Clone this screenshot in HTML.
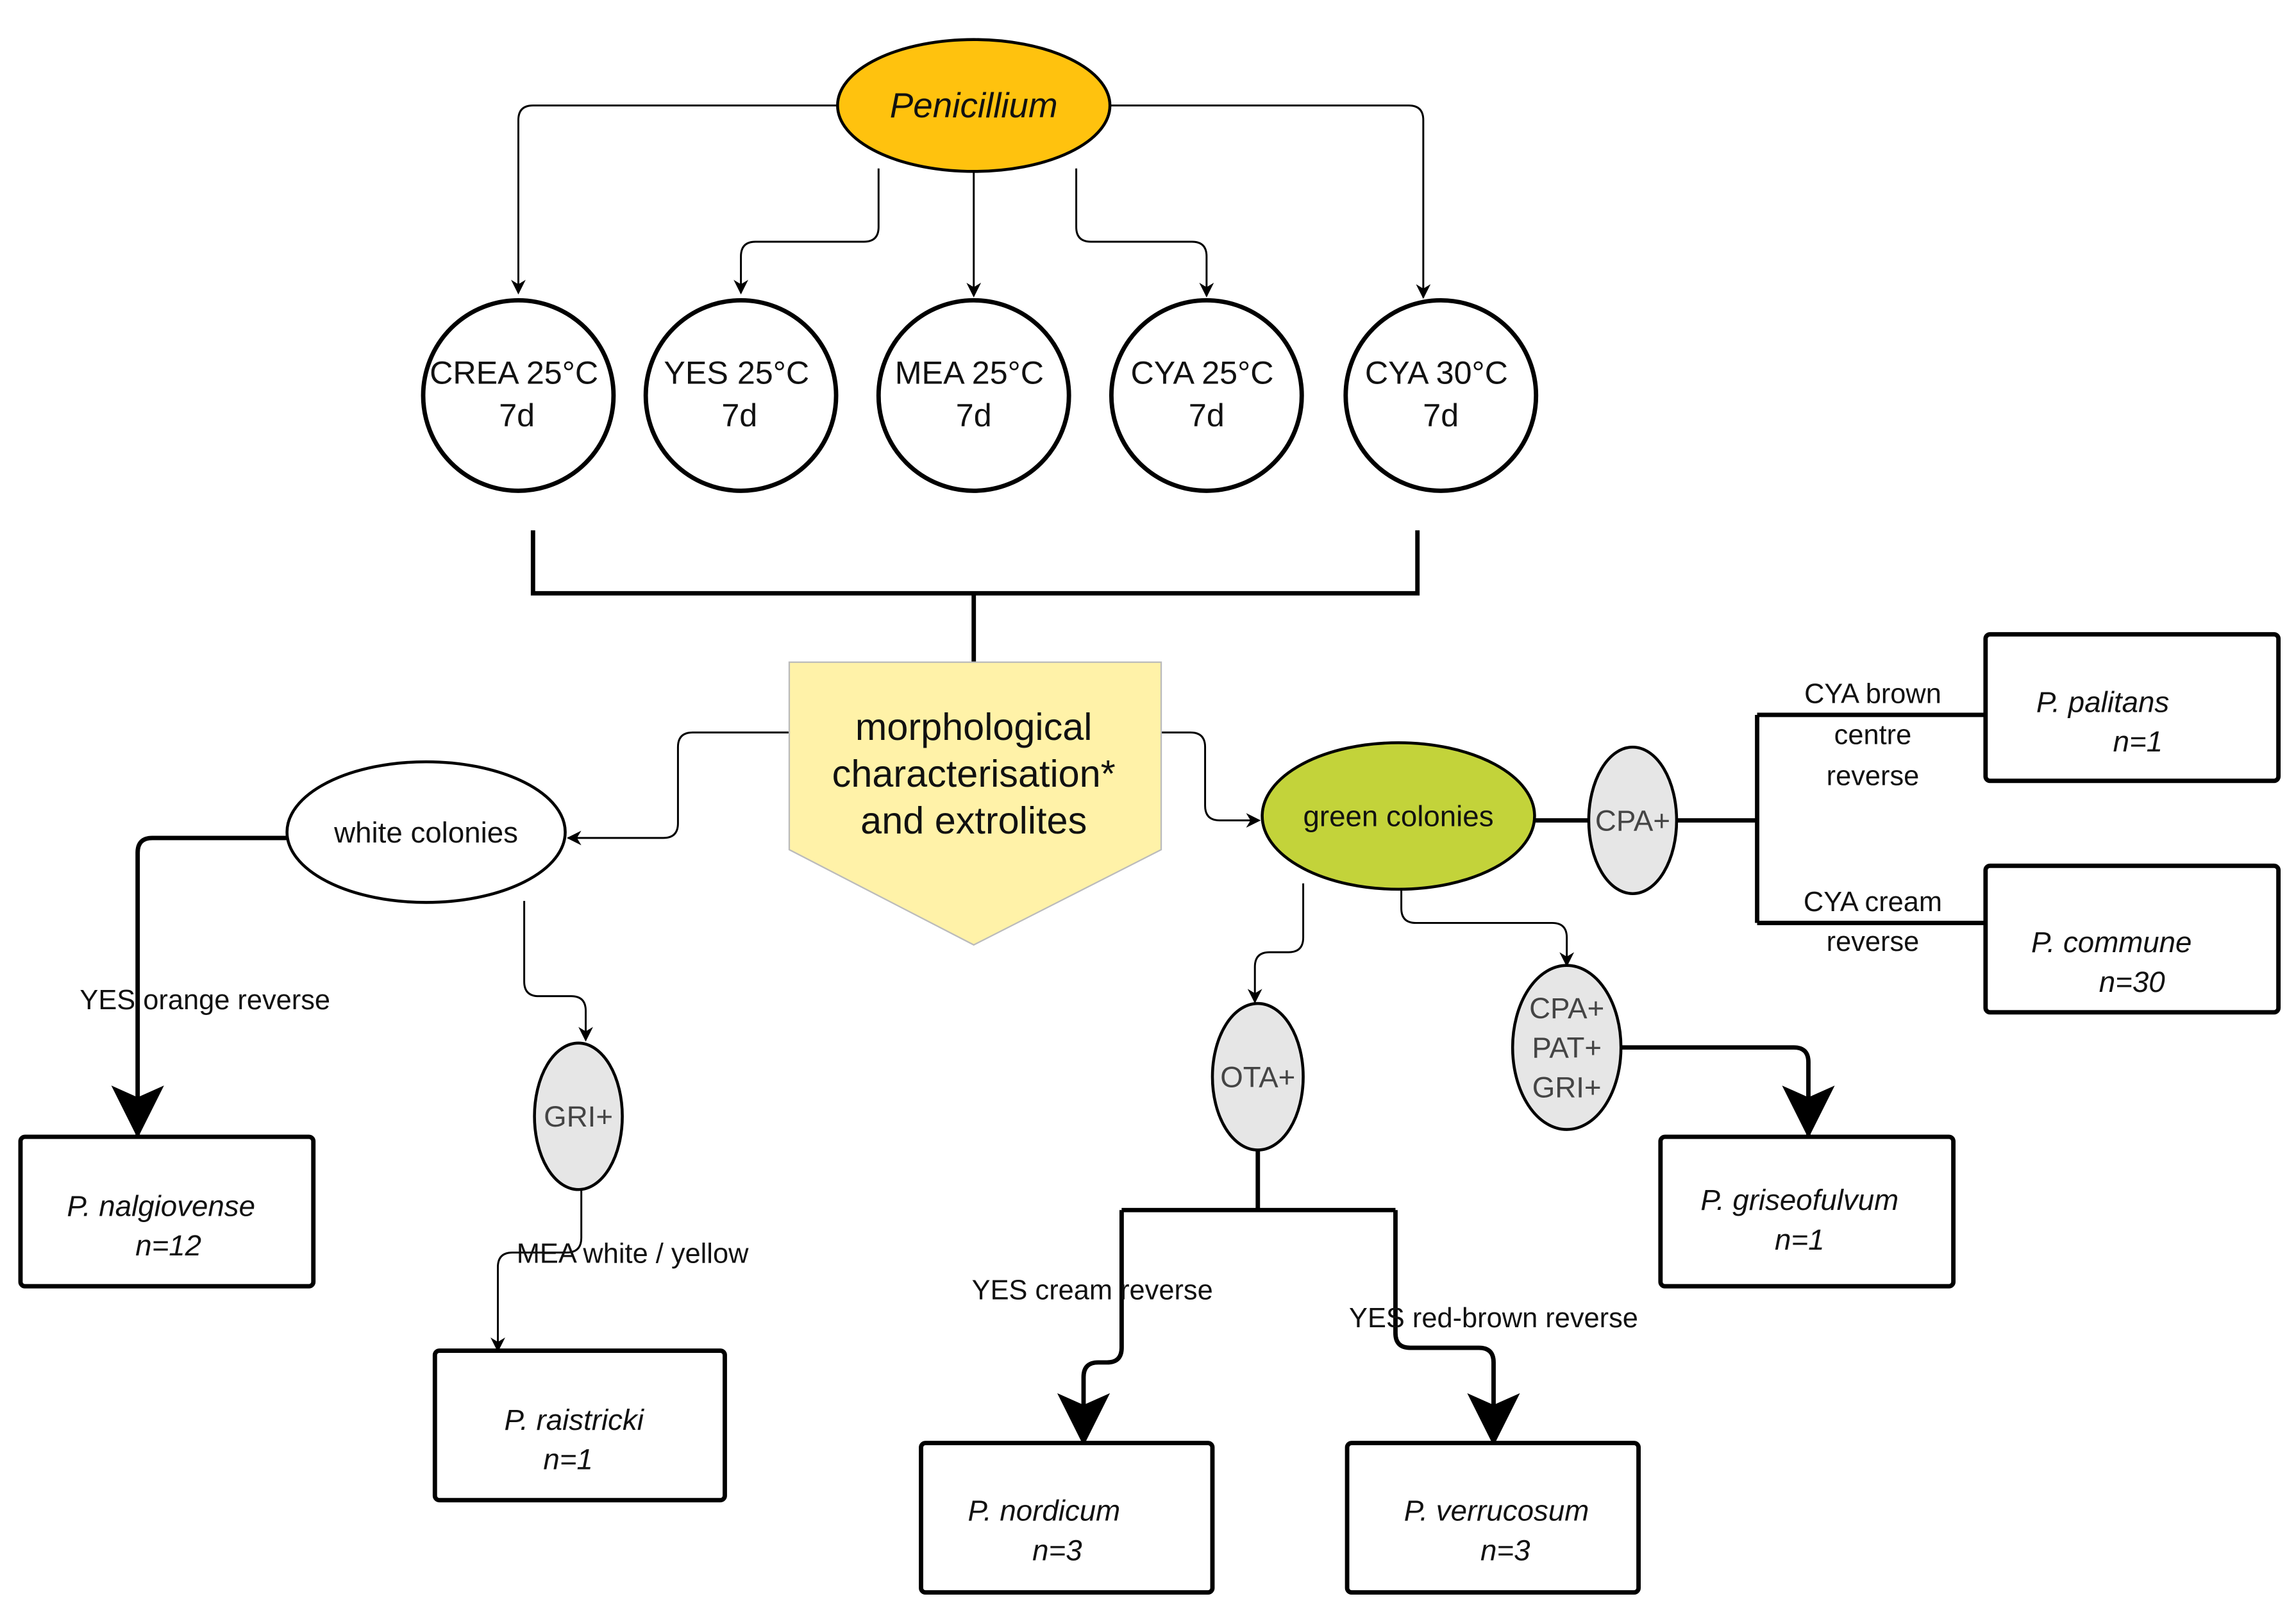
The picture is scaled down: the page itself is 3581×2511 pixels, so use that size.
<!DOCTYPE html>
<html><head><meta charset="utf-8"><style>
html,body{margin:0;padding:0;background:#fff;}
svg{display:block;}
text{font-family:"Liberation Sans",sans-serif;fill:#111;}
.i{font-style:italic;font-size:20px;}
</style></head><body>
<svg width="3581" height="2511" viewBox="0 0 1568 1099" preserveAspectRatio="none" xmlns="http://www.w3.org/2000/svg">
<defs>
<marker id="a" markerWidth="10" markerHeight="10" refX="9" refY="5" orient="auto" markerUnits="userSpaceOnUse"><path d="M0,0 L10,5 L0,10 L3,5 Z" fill="#000"/></marker>
<marker id="b" markerWidth="36" markerHeight="36" refX="34" refY="18" orient="auto" markerUnits="userSpaceOnUse"><path d="M0,0 L36,18 L0,36 L8,18 Z" fill="#000"/></marker>
</defs>
<rect width="1568" height="1099" fill="#fff"/>
<g fill="none" stroke="#000" stroke-width="1.3">
<path d="M572,72 H364 Q354,72 354,82 V200" marker-end="url(#a)"/>
<path d="M758,72 H962 Q972,72 972,82 V203" marker-end="url(#a)"/>
<path d="M600,115 V155 Q600,165 590,165 H516 Q506,165 506,175 V200" marker-end="url(#a)"/>
<path d="M665,117 V202" marker-end="url(#a)"/>
<path d="M735,115 V155 Q735,165 745,165 H814 Q824,165 824,175 V202" marker-end="url(#a)"/>
<path d="M539,500 H473 Q463,500 463,510 V562 Q463,572 453,572 H388" marker-end="url(#a)"/>
<path d="M793,500 H813 Q823,500 823,510 V550 Q823,560 833,560 H860" marker-end="url(#a)"/>
<path d="M358,615 V670 Q358,680 368,680 H390 Q400,680 400,690 V710" marker-end="url(#a)"/>
<path d="M397,812 V845 Q397,855 387,855 H350 Q340,855 340,865 V922" marker-end="url(#a)"/>
<path d="M890,603 V640 Q890,650 880,650 H867 Q857,650 857,660 V684" marker-end="url(#a)"/>
<path d="M957,603 V620 Q957,630 967,630 H1060 Q1070,630 1070,640 V659" marker-end="url(#a)"/>
</g>
<g fill="none" stroke="#000" stroke-width="3">
<path d="M364,362 V405 H968 V362 M665,405 V452"/>
<path d="M1048,560 H1085 M1145,560 H1200 M1200,488 V630 M1200,488 H1356 M1200,630 H1356"/>
<path d="M196,572 H104 Q94,572 94,582 V775" marker-end="url(#b)"/>
<path d="M859,785 V826 M766,826 H953 M766,826 V920 Q766,930 756,930 H750 Q740,930 740,940 V985" marker-end="url(#b)"/>
<path d="M953,826 V910 Q953,920 963,920 H1010 Q1020,920 1020,930 V985" marker-end="url(#b)"/>
<path d="M1107,715 H1225 Q1235,715 1235,725 V775" marker-end="url(#b)"/>
</g>
<ellipse cx="665" cy="72" rx="93" ry="45" fill="#FFC20E" stroke="#000" stroke-width="2"/>
<text x="665" y="80" text-anchor="middle" font-size="24" font-style="italic">Penicillium</text>
<g fill="#fff" stroke="#000" stroke-width="3">
<circle cx="354" cy="270" r="65"/><circle cx="506" cy="270" r="65"/><circle cx="665" cy="270" r="65"/><circle cx="824" cy="270" r="65"/><circle cx="984" cy="270" r="65"/>
</g>
<g font-size="22" text-anchor="middle">
<text x="351" y="262">CREA 25°C</text><text x="353" y="291">7d</text>
<text x="503" y="262">YES 25°C</text><text x="505" y="291">7d</text>
<text x="662" y="262">MEA 25°C</text><text x="665" y="291">7d</text>
<text x="821" y="262">CYA 25°C</text><text x="824" y="291">7d</text>
<text x="981" y="262">CYA 30°C</text><text x="984" y="291">7d</text>
</g>
<path d="M539,452 H793 V580 L665,645 L539,580 Z" fill="#FFF2A8" stroke="#bbb" stroke-width="1"/>
<g font-size="26" text-anchor="middle">
<text x="665" y="505">morphological</text><text x="665" y="537">characterisation*</text><text x="665" y="569">and extrolites</text>
</g>
<ellipse cx="291" cy="568" rx="95" ry="48" fill="#fff" stroke="#000" stroke-width="2"/>
<text x="291" y="575" text-anchor="middle" font-size="20">white colonies</text>
<ellipse cx="955" cy="557" rx="93" ry="50" fill="#C3D33A" stroke="#000" stroke-width="2"/>
<text x="955" y="564" text-anchor="middle" font-size="20">green colonies</text>
<g fill="#e6e6e6" stroke="#000" stroke-width="2">
<ellipse cx="1115" cy="560" rx="30" ry="50"/>
<ellipse cx="395" cy="762" rx="30" ry="50"/>
<ellipse cx="859" cy="735" rx="31" ry="50"/>
<ellipse cx="1070" cy="715" rx="37" ry="56"/>
</g>
<g font-size="20" text-anchor="middle">
<text x="1115" y="567" style="fill:#444">CPA+</text>
<text x="395" y="769" style="fill:#444">GRI+</text>
<text x="859" y="742" style="fill:#444">OTA+</text>
<text x="1070" y="695" style="fill:#444">CPA+</text><text x="1070" y="722" style="fill:#444">PAT+</text><text x="1070" y="749" style="fill:#444">GRI+</text>
</g>
<g font-size="19" text-anchor="middle">
<text x="1279" y="480">CYA brown</text><text x="1279" y="508">centre</text><text x="1279" y="536">reverse</text>
<text x="1279" y="622">CYA cream</text><text x="1279" y="649">reverse</text>
<text x="140" y="689">YES orange reverse</text>
<text x="432" y="862">MEA white / yellow</text>
<text x="746" y="887">YES cream reverse</text>
<text x="1020" y="906">YES red-brown reverse</text>
</g>
<g fill="#fff" stroke="#000" stroke-width="3">
<rect x="1356" y="433" width="200" height="100" rx="3"/>
<rect x="1356" y="591" width="200" height="100" rx="3"/>
<rect x="14" y="776" width="200" height="102" rx="3"/>
<rect x="297" y="922" width="198" height="102" rx="3"/>
<rect x="1134" y="776" width="200" height="102" rx="3"/>
<rect x="629" y="985" width="199" height="102" rx="3"/>
<rect x="920" y="985" width="199" height="102" rx="3"/>
</g>
<g text-anchor="middle">
<text class="i" x="1436" y="486">P. palitans</text><text class="i" x="1460" y="513">n=1</text>
<text class="i" x="1442" y="650">P. commune</text><text class="i" x="1456" y="677">n=30</text>
<text class="i" x="110" y="830">P. nalgiovense</text><text class="i" x="115" y="857">n=12</text>
<text class="i" x="392" y="976">P. raistricki</text><text class="i" x="388" y="1003">n=1</text>
<text class="i" x="1229" y="826">P. griseofulvum</text><text class="i" x="1229" y="853">n=1</text>
<text class="i" x="713" y="1038">P. nordicum</text><text class="i" x="722" y="1065">n=3</text>
<text class="i" x="1022" y="1038">P. verrucosum</text><text class="i" x="1028" y="1065">n=3</text>
</g>
</svg>
</body></html>
